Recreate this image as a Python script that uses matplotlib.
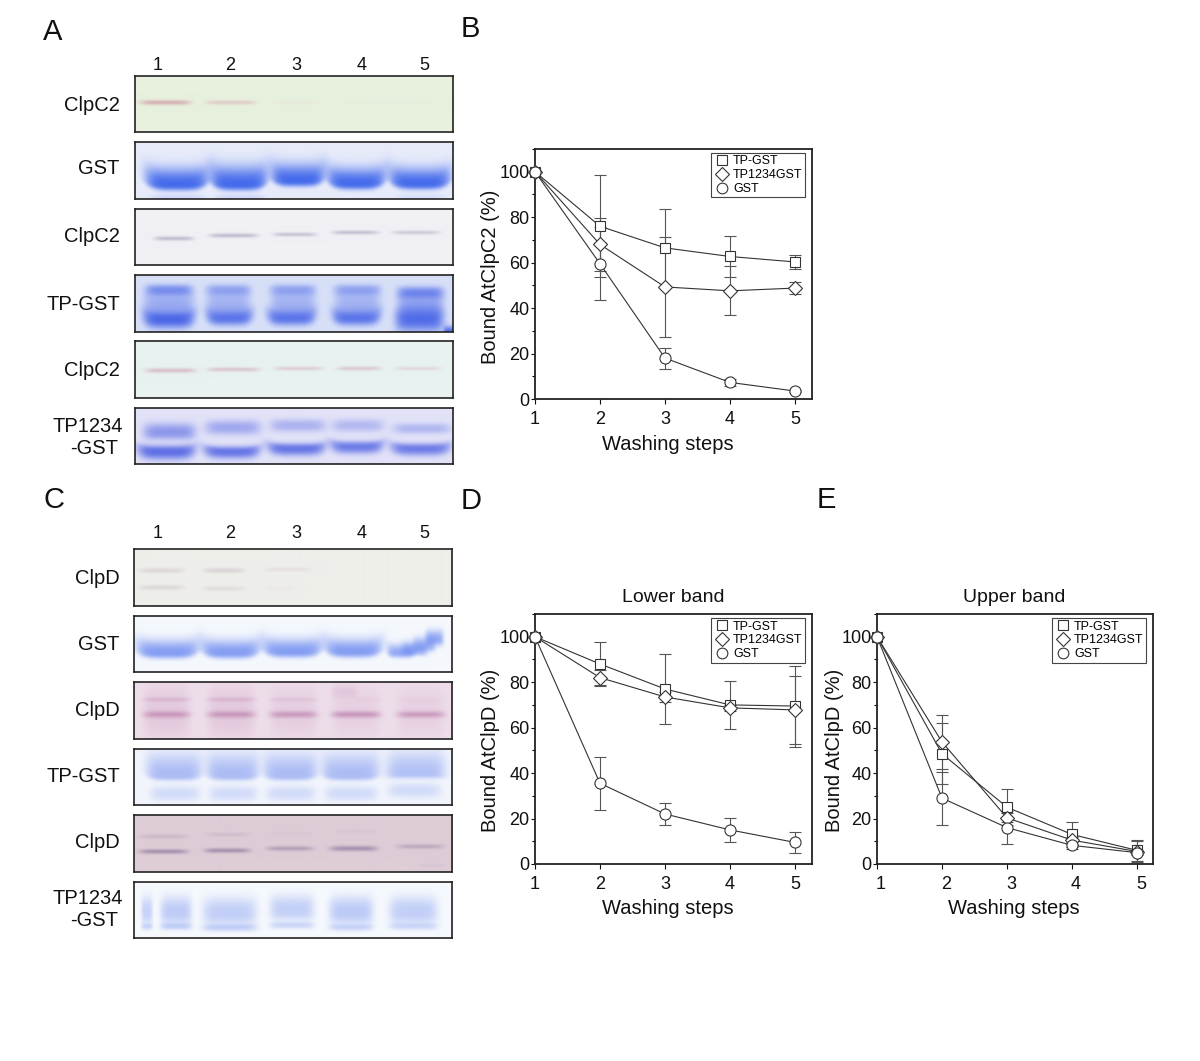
import numpy as np
import matplotlib
matplotlib.use('Agg')
from matplotlib import pyplot as plt
from matplotlib.lines import Line2D
from matplotlib.ticker import MultipleLocator
from matplotlib.transforms import ScaledTranslation

plt.rcParams['font.family'] = ['Liberation Sans', 'DejaVu Sans']

W, H = 1200, 1061

steps = [1, 2, 3, 4, 5]
names = ['TP-GST', 'TP1234GST', 'GST']
markers = ['s', 'D', 'o']
msizes = [7.5, 7, 8]

# panel B, bound AtClpC2
b_mean = [[100, 76, 66.5, 62.7, 60.3],
          [100, 68, 49.3, 47.6, 48.8],
          [100, 59.5, 18, 7.3, 3.5]]
b_err = [[0, 22.5, 17, 9.2, 3.2],
         [0, 11.5, 21.8, 10.7, 2.5],
         [0, 16, 4.6, 1.5, 0.5]]
# panel D, lower band
d_mean = [[100, 88, 77, 70, 69.5],
          [100, 82, 73.5, 68.7, 67.8],
          [100, 35.5, 22, 15, 9.5]]
d_err = [[0, 9.7, 15.2, 10.7, 17.8],
         [0, 3.3, 2, 1.3, 14.8],
         [0, 11.7, 4.7, 5.3, 4.6]]
# panel E, upper band
e_mean = [[100, 48.5, 25, 13, 6],
          [100, 53.7, 20.3, 10.5, 5.5],
          [100, 29, 16, 8.2, 5]]
e_err = [[0, 13.5, 7.8, 5.3, 4.5],
         [0, 12, 2, 1.5, 4.7],
         [0, 11.7, 7.2, 1.7, 1]]

lane_labels = ['1', '2', '3', '4', '5']
lane_x = [158, 230, 296, 362, 424]

# gel strips: x0, x1, yc, height above, height below, strength, edge rise
gel_a1 = [(5, 55, 26, 1.8, 1.8, .6, 0), (71, 120, 26, 1.4, 1.4, .38, 0),
          (137, 182, 26, 1.5, 1.5, .07, 0), (205, 300, 26, 1.5, 1.5, .03, 0)]
gel_a2 = [(10, 73, 43, 17, 5, .95, 6), (75, 132, 43, 19, 5, .95, 6), (136, 189, 39, 17, 5, .95, 5),
          (192, 250, 42, 16, 5, .95, 6), (254, 315, 42, 16, 5, .95, 6),
          (15, 70, 55, 3, 5, .15, 0), (80, 130, 55, 3, 5, .15, 0), (260, 310, 55, 3, 5, .1, 0)]
gel_a3 = [(19, 58, 29, 1.5, 1.5, .5, 0), (74, 122, 26, 1.5, 1.5, .5, 0), (138, 181, 25, 1.4, 1.4, .45, 0),
          (197, 243, 23, 1.3, 1.3, .5, 0), (257, 304, 23, 1.3, 1.3, .4, 0)]
gel_a4 = [(10, 57, 15, 5, 6, .6, 0), (71, 115, 15, 5, 6, .45, 0), (135, 180, 15, 5, 6, .45, 0),
          (199, 245, 15, 5, 6, .45, 0), (262, 308, 18, 6, 6, .65, 0),
          (8, 59, 30, 12, 10, .4, 0), (71, 115, 30, 12, 8, .35, 0), (135, 180, 30, 12, 8, .35, 0),
          (199, 245, 30, 12, 8, .35, 0), (262, 308, 32, 12, 10, .5, 0),
          (8, 59, 44, 8, 9, .9, 3), (71, 117, 43, 8, 7, .8, 3), (132, 180, 43, 8, 7, .8, 3),
          (197, 245, 43, 8, 7, .8, 3), (260, 308, 44, 10, 12, .85, 0), (308, 322, 57, 6, 3, .9, 0)]
gel_a5 = [(10, 60, 29, 1.8, 1.8, .5, 0), (72, 124, 28, 1.4, 1.4, .5, 0), (139, 187, 27, 1.3, 1.3, .42, 0),
          (202, 245, 27, 1.4, 1.4, .45, 0), (260, 305, 27, 1.2, 1.2, .32, 0)]
gel_a6 = [(8, 60, 24, 9, 7, .55, 0), (70, 125, 19, 7, 7, .42, 0), (135, 190, 17, 6, 6, .35, 0),
          (197, 248, 17, 6, 6, .3, 0), (258, 315, 20, 5, 5, .32, 0),
          (2, 60, 43, 6, 8, .85, 3), (68, 125, 43, 5, 7, .8, 3), (132, 190, 40, 5, 7, .8, 3),
          (195, 248, 38, 5, 7, .75, 3), (255, 315, 40, 5, 7, .75, 3)]
gel_c1 = [(5, 49, 21, 2, 2, .3, 0), (69, 109, 21, 2, 2, .35, 0), (130, 175, 20, 1.5, 1.5, .2, 0),
          (5, 49, 38, 2, 2, .3, 0), (69, 109, 39, 2, 2, .22, 0), (130, 160, 39, 2, 2, .06, 0)]
gel_c2 = [(2, 64, 37, 13, 5, .8, 5), (67, 125, 37, 13, 5, .8, 5), (128, 187, 36, 13, 5, .8, 5),
          (190, 247, 36, 13, 5, .8, 5), (252, 280, 37, 9, 4, .7, 2), (266, 292, 35, 9, 4, .6, 0),
          (278, 300, 30, 9, 5, .6, 0), (290, 308, 23, 9, 6, .7, 0)]
gel_c3 = [(9, 55, 30, 25, 25, .16, 0), (73, 120, 30, 25, 25, .16, 0), (135, 182, 30, 25, 25, .12, 0),
          (197, 245, 30, 25, 25, .1, 0), (262, 309, 30, 25, 25, .1, 0),
          (9, 55, 32, 3, 3, .45, 0), (73, 120, 32, 3, 3, .45, 0), (135, 182, 32, 3, 3, .45, 0),
          (197, 245, 32, 3, 3, .5, 0), (262, 309, 32, 3, 3, .45, 0),
          (9, 55, 17, 1.5, 1.5, .28, 0), (73, 120, 17, 1.5, 1.5, .28, 0), (135, 182, 17, 1.5, 1.5, .16, 0),
          (218, 245, 17, 1.5, 1.5, .06, 0), (262, 309, 17, 1.5, 1.5, .04, 0), (197, 222, 9, 6, 6, .12, 0)]
gel_c4 = [(12, 67, 27, 22, 4, .6, 3), (72, 124, 27, 22, 4, .6, 3), (129, 182, 27, 22, 4, .6, 3),
          (187, 244, 27, 22, 4, .6, 3), (251, 310, 25, 22, 4, .55, 0),
          (16, 65, 44, 7, 7, .28, 0), (75, 122, 44, 7, 7, .28, 0), (132, 180, 44, 7, 7, .28, 0),
          (190, 242, 44, 7, 7, .28, 0), (253, 305, 41, 7, 7, .28, 0)]
gel_c5 = [(5, 53, 36, 1.8, 1.8, .55, 0), (70, 115, 35, 1.8, 1.8, .55, 0), (132, 178, 33, 1.8, 1.8, .42, 0),
          (195, 242, 33, 2.2, 2.2, .5, 0), (262, 308, 31, 1.8, 1.8, .32, 0),
          (5, 53, 21, 1.5, 1.5, .2, 0), (72, 115, 19, 1.5, 1.5, .15, 0), (135, 178, 18, 1.5, 1.5, .07, 0),
          (200, 242, 16, 1.5, 1.5, .07, 0), (285, 308, 50, 1, 1, .1, 0)]
gel_c6 = [(7, 18, 30, 15, 12, .42, 0), (26, 57, 30, 15, 12, .48, 0), (68, 122, 31, 15, 12, .45, 0),
          (135, 179, 28, 14, 10, .45, 0), (194, 238, 30, 15, 12, .5, 0), (254, 302, 30, 15, 12, .45, 0),
          (7, 18, 44, 2.5, 3, .4, 0), (26, 57, 44, 3, 3, .45, 0), (68, 122, 45, 3, 3.5, .45, 0),
          (135, 179, 43, 3, 3, .4, 0), (194, 238, 45, 3, 3, .4, 0), (254, 302, 44, 3, 3, .35, 0)]

gels_a = [((135, 76, 453, 132), (232, 240, 222), (190, 105, 130), gel_a1),
          ((135, 142, 453, 199), (232, 236, 250), (60, 100, 235), gel_a2),
          ((135, 209, 453, 265), (241, 241, 245), (105, 95, 140), gel_a3),
          ((135, 275, 453, 332), (216, 224, 248), (60, 90, 230), gel_a4),
          ((135, 341, 453, 398), (232, 242, 240), (190, 110, 150), gel_a5),
          ((135, 408, 453, 464), (226, 226, 248), (70, 90, 225), gel_a6)]
gels_c = [((134, 549, 452, 606), (238, 238, 234), (170, 145, 170), gel_c1),
          ((134, 616, 452, 672), (245, 248, 253), (105, 135, 240), gel_c2),
          ((134, 682, 452, 739), (238, 222, 234), (165, 85, 145), gel_c3),
          ((134, 749, 452, 805), (242, 245, 252), (125, 150, 240), gel_c4),
          ((134, 815, 452, 872), (222, 205, 215), (95, 65, 120), gel_c5),
          ((134, 882, 452, 938), (246, 249, 253), (130, 155, 240), gel_c6)]

labels_a = [('ClpC2', 103, 120), ('GST', 167, 119), ('ClpC2', 235, 120), ('TP-GST', 302, 120),
            ('ClpC2', 368, 120), ('TP1234', 424, 123), ('-GST', 447, 118)]
labels_c = [('ClpD', 576, 120), ('GST', 642, 119), ('ClpD', 708, 120), ('TP-GST', 775, 120),
            ('ClpD', 841, 120), ('TP1234', 896, 123), ('-GST', 918, 118)]


def box(x0, y0, x1, y1):
    return [x0 / W, 1 - y1 / H, (x1 - x0) / W, (y1 - y0) / H]


def ftext(x, y, s, size, ha='center', **kw):
    fig.text(x / W, 1 - (y + 2) / H, s, fontsize=size, ha=ha, va='center', color='#111111', **kw)


def blur(img, sigma=1.2):
    r = np.arange(-4, 5)
    k = np.exp(-r ** 2 / (2 * sigma ** 2))
    k = k / k.sum()
    pad = np.pad(img, 4, mode='edge')
    pad = np.apply_along_axis(lambda v: np.convolve(v, k, mode='same'), 0, pad)
    pad = np.apply_along_axis(lambda v: np.convolve(v, k, mode='same'), 1, pad)
    return pad[4:-4, 4:-4]


def draw_gel(rect, bg, colour, strips):
    w, h = rect[2] - rect[0], rect[3] - rect[1]
    yy, xx = np.mgrid[0:h, 0:w]
    alpha = np.zeros((h, w))
    for x0, x1, yc, up, dn, k, rise in strips:
        mid, half = (x0 + x1) / 2, (x1 - x0) / 2
        u = (xx - mid) / half
        dy = yy - yc + rise * np.abs(u) ** 4
        across = np.exp(-np.abs(u) ** 6)
        along = np.exp(-np.abs(dy / np.where(dy < 0, up, dn)) ** 2.5)
        alpha = 1 - (1 - alpha) * (1 - k * across * along)
    alpha = blur(alpha)
    img = np.zeros((h, w, 3))
    for c in range(3):
        img[..., c] = (bg[c] * (1 - alpha) + colour[c] * alpha) / 255
    ax = fig.add_axes(box(*rect))
    ax.imshow(img, aspect='auto', interpolation='bilinear')
    ax.set_xticks([])
    ax.set_yticks([])
    for s in ax.spines.values():
        s.set_linewidth(1.2)
        s.set_color('#222222')


def draw_plot(rect, means, errs, ylabel, ylabel_x, xlabel_x, legend_xy, ylabel_y, lab_shift=0):
    x0, y0, x1, y1 = rect
    ax = fig.add_axes(box(*rect))
    for i in range(3):
        ax.errorbar(steps, means[i], yerr=errs[i], fmt='none', ecolor='#555555',
                    elinewidth=0.8, capsize=4.4, capthick=0.8, zorder=2)
    for i in range(3):
        ax.plot(steps, means[i], color='#333333', lw=0.8, marker=markers[i], ms=msizes[i],
                mfc='white', mec='#333333', mew=0.8, zorder=3 + i, clip_on=False)
    ax.set_xlim(1, 1 + (x1 - x0) / 65)
    ax.set_ylim(0, 110)
    ax.set_xticks(steps)
    ax.set_yticks(range(0, 101, 20))
    ax.yaxis.set_minor_locator(MultipleLocator(10))
    ax.tick_params(axis='both', which='major', labelsize=13, width=0.8, colors='#111111')
    ax.tick_params(axis='x', length=3.5, pad=5)
    ax.tick_params(axis='y', length=2.8, pad=1)
    ax.tick_params(axis='y', which='minor', length=2.2, width=0.8)
    if lab_shift:
        for t in ax.get_xticklabels():
            t.set_transform(t.get_transform() + ScaledTranslation(lab_shift / 100, 0, fig.dpi_scale_trans))
    for s in ax.spines.values():
        s.set_linewidth(1.3)
        s.set_color('#222222')
    ax.set_xlabel('Washing steps', fontsize=14.5, va='center', color='#111111')
    ax.xaxis.set_label_coords((xlabel_x - x0) / (x1 - x0), -45 / (y1 - y0))
    ax.set_ylabel(ylabel, fontsize=14.5, va='center', color='#111111')
    ax.yaxis.set_label_coords((ylabel_x - x0) / (x1 - x0), (y1 - ylabel_y) / (y1 - y0))
    handles = [Line2D([], [], ls='none', marker=markers[i], ms=msizes[i] - 0.3, mfc='white',
                      mec='#333333', mew=0.8) for i in range(3)]
    ax.legend(handles, names, loc='upper right', fontsize=9, fancybox=False, framealpha=1,
              edgecolor='#444444', borderpad=0.2, labelspacing=0.14, handletextpad=0.1,
              handlelength=1.5, borderaxespad=0,
              bbox_to_anchor=((legend_xy[0] - x0) / (x1 - x0), (y1 - legend_xy[1]) / (y1 - y0)),
              ).get_frame().set_linewidth(0.8)
    ax.patch.set_alpha(0)
    return ax


fig = plt.figure(figsize=(W / 100, H / 100), dpi=100, facecolor='white')

for rect, bg, colour, strips in gels_a + gels_c:
    draw_gel(rect, bg, colour, strips)

draw_plot((535, 149, 812, 399), b_mean, b_err, 'Bound AtClpC2 (%)', 490, 668, (805, 153), 277)
draw_plot((535, 614, 812, 864), d_mean, d_err, 'Bound AtClpD (%)', 490, 668, (805, 618), 750)
draw_plot((877, 614, 1153, 864), e_mean, e_err, 'Bound AtClpD (%)', 835, 1014, (1146, 618), 750, lab_shift=4)

for s, x, y in [('A', 53, 30), ('B', 470, 27), ('C', 54, 498), ('D', 471, 499), ('E', 826, 498)]:
    ftext(x, y, s, 21)
for lab, x in zip(lane_labels, lane_x):
    ftext(x, 64, lab, 13)
    ftext(x, 532, lab, 13)
for s, y, xr in labels_a + labels_c:
    ftext(xr, y, s, 14.5, ha='right')
ftext(673, 595, 'Lower band', 14)
ftext(1014, 595, 'Upper band', 14)

plt.savefig('out.png', dpi=100)
